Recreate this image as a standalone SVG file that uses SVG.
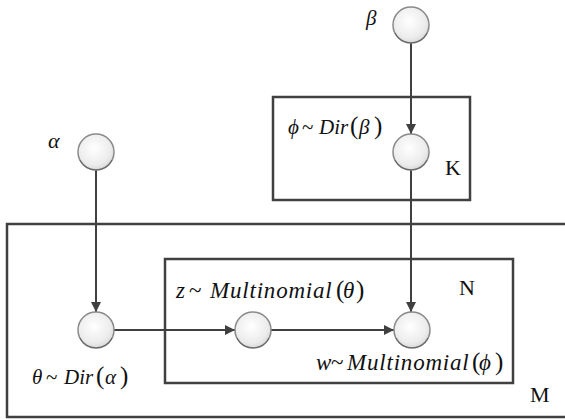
<svg xmlns="http://www.w3.org/2000/svg" width="565" height="419" viewBox="0 0 565 419">
<defs>
<radialGradient id="g" cx="0.45" cy="0.4" r="0.65">
<stop offset="0" stop-color="#ffffff"/>
<stop offset="0.7" stop-color="#ececec"/>
<stop offset="1" stop-color="#d4d4d4"/>
</radialGradient>
<marker id="ah" viewBox="0 0 10 10" refX="10" refY="5" markerWidth="10" markerHeight="10" markerUnits="userSpaceOnUse" orient="auto">
<path d="M0,0 L10,5 L0,10 Z" fill="#404040"/>
</marker>
</defs>
<rect width="565" height="419" fill="#fff"/>
<g id="plates" fill="none" stroke="#404040" stroke-width="2.5">
<rect id="plate-M" x="7" y="224" width="570" height="193"/>
<rect id="plate-N" x="165" y="259" width="348" height="124"/>
<rect id="plate-K" x="273" y="97" width="197" height="103"/>
</g>
<g id="plate-labels">
<text x="445" y="175" font-family="Liberation Serif" font-size="22" fill="#111">K</text>
<text x="459" y="295" font-family="Liberation Serif" font-size="22" fill="#111">N</text>
<text x="530" y="402" font-family="Liberation Serif" font-size="22" fill="#111">M</text>
</g>
<g id="connectors" fill="none" stroke="#404040" stroke-width="2">
<line x1="411" y1="43" x2="411" y2="134" marker-end="url(#ah)"/>
<line x1="411" y1="170" x2="411" y2="312" marker-end="url(#ah)"/>
<line x1="96" y1="170" x2="96" y2="312" marker-end="url(#ah)"/>
<line x1="114" y1="330" x2="235" y2="330" marker-end="url(#ah)"/>
<line x1="271" y1="330" x2="394" y2="330" marker-end="url(#ah)"/>
</g>
<g id="node-beta">
<circle cx="411" cy="25" r="18" fill="url(#g)" stroke="#8a8a8a" stroke-width="1.5"/>
<path d="M395,33 A18,18 0 0 0 427,33" fill="none" stroke="#505050" stroke-width="1.2" opacity="0.6"/>
<text x="366" y="25" font-family="Liberation Serif" font-size="21" font-style="italic" fill="#111">β</text>
</g>
<g id="node-alpha">
<circle cx="96" cy="152" r="18" fill="url(#g)" stroke="#8a8a8a" stroke-width="1.5"/>
<path d="M80,160 A18,18 0 0 0 112,160" fill="none" stroke="#505050" stroke-width="1.2" opacity="0.6"/>
<text x="48" y="148" font-family="Liberation Serif" font-size="22" font-style="italic" fill="#111">α</text>
</g>
<g id="node-phi">
<circle cx="411" cy="152" r="18" fill="url(#g)" stroke="#8a8a8a" stroke-width="1.5"/>
<path d="M395,160 A18,18 0 0 0 427,160" fill="none" stroke="#505050" stroke-width="1.2" opacity="0.6"/>
<text x="288" y="134" font-family="Liberation Serif" font-size="21" fill="#111"><tspan font-style="italic">ϕ</tspan><tspan x="302">~</tspan><tspan x="319" font-style="italic">Dir</tspan><tspan x="350" font-size="25">(</tspan><tspan x="359" font-style="italic">β</tspan><tspan x="374" font-size="25">)</tspan></text>
</g>
<g id="node-theta">
<circle cx="96" cy="330" r="18" fill="url(#g)" stroke="#8a8a8a" stroke-width="1.5"/>
<path d="M80,338 A18,18 0 0 0 112,338" fill="none" stroke="#505050" stroke-width="1.2" opacity="0.6"/>
<text x="32" y="384" font-family="Liberation Serif" font-size="21" fill="#111"><tspan font-style="italic">θ</tspan><tspan x="46">~</tspan><tspan x="64" font-style="italic">Dir</tspan><tspan x="96" font-size="25">(</tspan><tspan x="105" font-style="italic">α</tspan><tspan x="120" font-size="25">)</tspan></text>
</g>
<g id="node-z">
<circle cx="253" cy="330" r="18" fill="url(#g)" stroke="#8a8a8a" stroke-width="1.5"/>
<path d="M237,338 A18,18 0 0 0 269,338" fill="none" stroke="#505050" stroke-width="1.2" opacity="0.6"/>
<text x="176" y="298" font-family="Liberation Serif" font-size="23" fill="#111"><tspan font-style="italic">z</tspan><tspan x="189">~</tspan><tspan x="210" font-style="italic" letter-spacing="0.8">Multinomial</tspan><tspan x="336" font-size="25">(</tspan><tspan x="343" font-style="italic">θ</tspan><tspan x="356" font-size="25">)</tspan></text>
</g>
<g id="node-w">
<circle cx="412" cy="330" r="18" fill="url(#g)" stroke="#8a8a8a" stroke-width="1.5"/>
<path d="M396,338 A18,18 0 0 0 428,338" fill="none" stroke="#505050" stroke-width="1.2" opacity="0.6"/>
<text x="316" y="370" font-family="Liberation Serif" font-size="23" fill="#111"><tspan font-style="italic">w</tspan><tspan x="331">~</tspan><tspan x="347" font-style="italic" letter-spacing="0.8">Multinomial</tspan><tspan x="472" font-size="25">(</tspan><tspan x="479" font-style="italic">ϕ</tspan><tspan x="495" font-size="25">)</tspan></text>
</g>
</svg>
